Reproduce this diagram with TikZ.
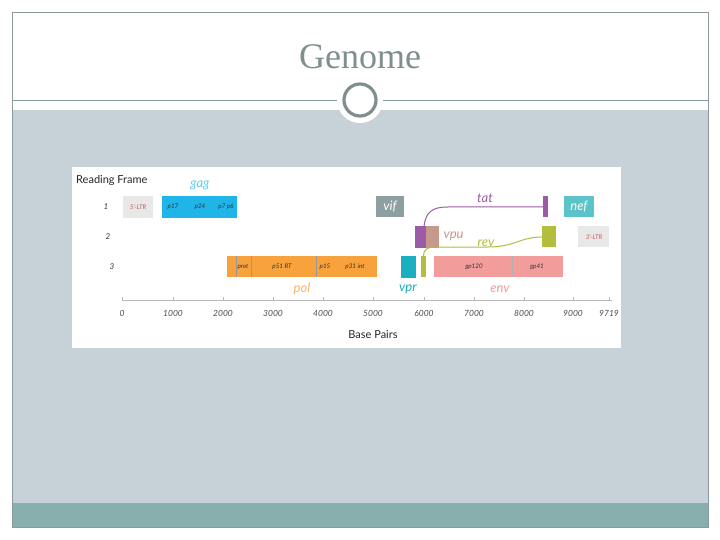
\documentclass[tikz,border=0pt]{standalone}
\usepackage{fontspec}
\setmainfont{Liberation Serif}
\newfontfamily\dgfont{Lato}
\definecolor{frameC}{HTML}{8A9A9A}
\definecolor{bgC}{HTML}{C6D2D7}
\definecolor{bandC}{HTML}{88AEAD}
\definecolor{titleC}{HTML}{7F8F8F}
\definecolor{gagC}{HTML}{1FB5E9}
\definecolor{vifC}{HTML}{8E9FA2}
\definecolor{tatC}{HTML}{9B5BA6}
\definecolor{nefC}{HTML}{5CC3C8}
\definecolor{vpuC}{HTML}{C69A8A}
\definecolor{revC}{HTML}{B3BD3E}
\definecolor{polC}{HTML}{F7A23C}
\definecolor{vprC}{HTML}{1AAFC0}
\definecolor{envC}{HTML}{F29C9C}
\definecolor{ltrC}{HTML}{E8E8E8}
\definecolor{ltrT}{HTML}{C25A5A}
\definecolor{axisC}{HTML}{B8B8B8}
\tikzset{
  inlbl/.style={font=\dgfont\itshape\fontsize{6.3}{7}\selectfont,text=black!80},
  glbl/.style={font=\dgfont\itshape\fontsize{13}{14}\selectfont},
  tick/.style={font=\dgfont\itshape\fontsize{8.5}{9}\selectfont,text=black!70},
  rowlbl/.style={font=\dgfont\itshape\fontsize{8}{9}\selectfont,text=black!80},
}
\begin{document}
\begin{tikzpicture}[x=1pt,y=-1pt]
\useasboundingbox (0,0) rectangle (720,540);
\fill[white] (0,0) rectangle (720,540);
% slide frame
\fill[bgC] (12,110) rectangle (708,503);
\fill[bandC] (12,503) rectangle (708,527);
\draw[frameC,line width=0.8pt] (12,12) rectangle (708,527);
\draw[frameC,line width=0.8pt] (12,100) -- (708,100);
\node[font=\fontsize{36}{40}\selectfont,text=titleC] (title) at (360,57) {Genome};
\fill[white] (360,100) circle (23);
\draw[titleC,line width=3.2pt] (360,100) circle (16);
% diagram panel
\fill[white] (72,167) rectangle (621,348);
\node[font=\dgfont\fontsize{11}{12}\selectfont,anchor=west,text=black!85,inner sep=0pt] (rf) at (76,180) {Reading Frame};
\node[rowlbl] (r1) at (106,207) {1};
\node[rowlbl] (r2) at (108,237) {2};
\node[rowlbl] (r3) at (112,267) {3};
% row 1
\fill[ltrC] (123,196) rectangle (153,218);
\node[inlbl,text=ltrT] (ltr5) at (138,207) {5'-LTR};
\fill[gagC] (162,196) rectangle (237,218);
\node[inlbl] (p17) at (173,207) {p17};
\node[inlbl] (p24) at (200,207) {p24};
\node[inlbl] (p7) at (226,207) {p7 p6};
\node[glbl,text=gagC!70] (gag) at (200,185) {gag};
\fill[vifC] (376,196) rectangle (404,217);
\node[glbl,text=white] (vif) at (390,206.5) {vif};
\fill[nefC] (564,196) rectangle (594,217);
\node[glbl,text=white] (nef) at (579,206.5) {nef};
% tat
\fill[tatC] (415,226) rectangle (426,248);
\fill[vpuC] (426,226) rectangle (439,248);
\node[glbl,text=vpuC,anchor=west] (vpu) at (440,236) {vpu};
\fill[tatC] (543,196) rectangle (548,217);
\draw[tatC,line width=1pt] (424,226) .. controls (426,212) and (432,207) .. (448,207) -- (545,207);
\node[glbl,text=tatC] (tat) at (485,198) {tat};
% rev
\fill[revC] (421,256) rectangle (426,277);
\fill[revC] (542,226) rectangle (556,247);
\draw[revC,line width=1pt] (423.5,256) .. controls (424,249) and (427,247) .. (436,247) -- (488,247) .. controls (515,247) and (520,237) .. (542,237);
\node[glbl,text=revC] (rev) at (486,243) {rev};
\fill[ltrC] (578,226) rectangle (609,247);
\node[inlbl,text=ltrT] (ltr3) at (594,237) {3'-LTR};
% row 3: pol
\fill[polC] (227,256) rectangle (377,277);
\draw[black!40,line width=0.4pt] (236,256) -- (236,277);
\draw[black!40,line width=0.4pt] (251,256) -- (251,277);
\draw[black!40,line width=0.4pt] (316,256) -- (316,277);
\node[inlbl] (prot) at (243,267) {prot};
\node[inlbl] (rt) at (282,267) {p51 RT};
\node[inlbl] (p15) at (325,267) {p15};
\node[inlbl] (int) at (355,267) {p31 int};
\node[glbl,text=polC!80] (pol) at (302,289) {pol};
\fill[vprC] (401,256) rectangle (416,278);
\node[glbl,text=vprC] (vpr) at (408,289) {vpr};
\fill[envC] (434,256) rectangle (563,277);
\draw[black!30,line width=0.4pt] (512,256) -- (512,277);
\node[inlbl] (gp120) at (474,267) {gp120};
\node[inlbl] (gp41) at (537,267) {gp41};
\node[glbl,text=envC] (env) at (500,289) {env};
% axis
\draw[axisC,line width=0.6pt] (122,300) -- (612,300);
\foreach \v/\x in {0/122,1000/173,2000/223,3000/273,4000/323,5000/373,6000/424,7000/474,8000/524,9000/573,9719/609}{
  \draw[axisC,line width=0.5pt] (\x,300) -- (\x,297);
  \node[tick] at (\x,313) {\v};
}
\node[font=\dgfont\fontsize{11}{12}\selectfont,text=black!85] (bp) at (373,335) {Base Pairs};
\end{tikzpicture}
\end{document}
